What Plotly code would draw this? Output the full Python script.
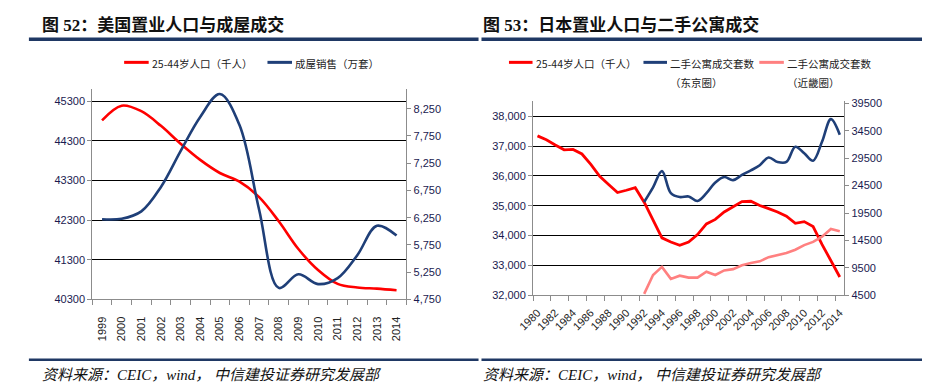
import plotly.graph_objects as go

W, H = 930, 385

# ---------------- data ----------------
us_years = list(range(1999, 2015))
us_pop_25_44 = [44820, 45190, 45050, 44680, 44230, 43820, 43490, 43270,
                42880, 42270, 41570, 41040, 40690, 40600, 40570, 40530]
us_home_sales = [6220, 6230, 6365, 6814, 7472, 8100, 8519, 7950,
                 6395, 4960, 5210, 5030, 5140, 5560, 6100, 5920]

jp_years = list(range(1980, 2015))
jp_pop_25_44 = [37342, 37212, 37038, 36875, 36886, 36734, 36387, 35985, 35713, 35442,
                35518, 35605, 35116, 34519, 33922, 33780, 33672, 33780, 34030, 34389,
                34541, 34790, 34975, 35138, 35149, 35008, 34900, 34790, 34650, 34410,
                34465, 34300, 33705, 33160, 32610]
jp_sales_years = list(range(1992, 2015))
tokyo_sales = [21520, 24190, 27160, 23120, 22410, 22530, 21700, 23120, 25080, 26090,
               25500, 26450, 27280, 28230, 29650, 28820, 28820, 31610, 30420, 29060,
               32500, 36650, 33800]
kinki_sales = [4740, 8180, 9660, 7470, 8060, 7700, 7700, 8770, 8180, 9010,
               9250, 9960, 10370, 10670, 11440, 11860, 12210, 12800, 13640, 14230,
               15180, 16600, 16190]

us_left_ticks = [40300, 41300, 42300, 43300, 44300, 45300]
us_right_ticks = [4750, 5250, 5750, 6250, 6750, 7250, 7750, 8250]
jp_left_ticks = [32000, 33000, 34000, 35000, 36000, 37000, 38000]
jp_right_ticks = [4500, 9500, 14500, 19500, 24500, 29500, 34500, 39500]
jp_label_years = list(range(1980, 2015, 2))

title_left = "图 52：美国置业人口与成屋成交"
title_right = "图 53：日本置业人口与二手公寓成交"
source_text = "资料来源：CEIC，wind， 中信建投证券研究发展部"
leg_pop = "25-44岁人口（千人）"
leg_us_sales = "成屋销售（万套）"
leg_tokyo = ["二手公寓成交套数", "（东京圈）"]
leg_kinki = ["二手公寓成交套数", "（近畿圈）"]

RED = "#FF0000"
BLUE = "#1F3F78"
PINK = "#FF8080"
NAVY_RULE = "#1F3864"
AXIS_GRAY = "#8C8C8C"
TICK_COLOR = "#1A1A50"


def px(x):
    return x / W


def py(y):
    return 1 - y / H


fig = go.Figure()

fig.add_trace(go.Scatter(x=us_years, y=us_pop_25_44, xaxis="x", yaxis="y", mode="lines",
                         line=dict(color=RED, width=2.6, shape="spline"), showlegend=False))
fig.add_trace(go.Scatter(x=us_years, y=us_home_sales, xaxis="x", yaxis="y2", mode="lines",
                         line=dict(color=BLUE, width=2.6, shape="spline"), showlegend=False))
fig.add_trace(go.Scatter(x=jp_years, y=jp_pop_25_44, xaxis="x2", yaxis="y3", mode="lines",
                         line=dict(color=RED, width=2.8), showlegend=False))
fig.add_trace(go.Scatter(x=jp_sales_years, y=tokyo_sales, xaxis="x2", yaxis="y4", mode="lines",
                         line=dict(color=BLUE, width=2.6, shape="spline"), showlegend=False))
fig.add_trace(go.Scatter(x=jp_sales_years, y=kinki_sales, xaxis="x2", yaxis="y4", mode="lines",
                         line=dict(color=PINK, width=2.6), showlegend=False))

tickfont = dict(family="Liberation Sans, Arial, sans-serif", size=11, color=TICK_COLOR)
xtickfont = dict(family="Liberation Sans, Arial, sans-serif", size=11, color="#222222")

common_y = dict(showline=True, linecolor=AXIS_GRAY, linewidth=1, ticks="outside",
                ticklen=4, tickcolor=AXIS_GRAY, tickfont=tickfont, zeroline=False,
                fixedrange=True)

fig.update_layout(
    width=W, height=H,
    margin=dict(l=0, r=0, t=0, b=0),
    paper_bgcolor="white", plot_bgcolor="white",
    xaxis=dict(domain=[px(69.5), px(389.5)], anchor="y", range=[1998.5, 2014.5],
               tickvals=us_years, ticktext=[str(y) for y in us_years], tickangle=-90,
               ticks="outside", ticklen=12, tickcolor="rgba(0,0,0,0)",
               minor=dict(tickvals=[y - 0.5 for y in us_years] + [2014.5], ticks="outside",
                          ticklen=5, tickcolor=AXIS_GRAY, showgrid=False),
               showline=True, linecolor=AXIS_GRAY, showgrid=False, zeroline=False,
               tickfont=xtickfont),
    yaxis=dict(domain=[py(295), py(79)], anchor="x", range=[40300, 45612],
               tickvals=us_left_ticks, tickformat="d", showgrid=True, gridcolor="#000000",
               gridwidth=1, **common_y),
    yaxis2=dict(overlaying="y", side="right", anchor="x", range=[4750, 8613],
                tickvals=us_right_ticks, tickformat=",d", showgrid=False, **common_y),
    xaxis2=dict(domain=[px(518.5), px(835.5)], anchor="y3", range=[1979.5, 2014.5],
                tickvals=jp_label_years, ticktext=[str(y) for y in jp_label_years],
                tickangle=-45, ticks="outside", ticklen=6, tickcolor="rgba(0,0,0,0)",
                minor=dict(tickvals=[y - 0.5 for y in jp_label_years], ticks="outside",
                           ticklen=5, tickcolor=AXIS_GRAY, showgrid=False),
                showline=True, linecolor=AXIS_GRAY, showgrid=False, zeroline=False,
                tickfont=xtickfont),
    yaxis3=dict(domain=[py(290.7), py(91.7)], anchor="x2", range=[32000, 38500],
                tickvals=jp_left_ticks, tickformat=",d", showgrid=True, gridcolor="#000000",
                gridwidth=1, **common_y),
    yaxis4=dict(overlaying="y3", side="right", anchor="x2", range=[4500, 39900],
                tickvals=jp_right_ticks, tickformat="d", showgrid=False, **common_y),
)

shapes = []
annotations = []

# header / footer rules
for x0, x1 in [(5, 463), (466, 926)]:
    shapes.append(dict(type="line", xref="paper", yref="paper", x0=px(x0), x1=px(x1),
                       y0=py(28), y1=py(28), line=dict(color=NAVY_RULE, width=3.5)))
    shapes.append(dict(type="line", xref="paper", yref="paper", x0=px(x0), x1=px(x1),
                       y0=py(357), y1=py(357), line=dict(color=NAVY_RULE, width=2.5)))

title_font = dict(family="Liberation Serif, Noto Sans CJK SC, sans-serif", size=17, color="#111111")
for x, t in [(16, title_left), (465, title_right)]:
    annotations.append(dict(xref="paper", yref="paper", x=px(x), y=py(13), xanchor="left",
                            yanchor="middle", text="<b>" + t + "</b>", showarrow=False,
                            font=title_font))

src_font = dict(family="Liberation Serif, Noto Sans CJK SC, serif", size=15, color="#111111")
for x in [16, 465]:
    annotations.append(dict(xref="paper", yref="paper", x=px(x), y=py(373), xanchor="left",
                            yanchor="middle", text="<i>" + source_text + "</i>", showarrow=False,
                            font=src_font))

leg_font = dict(family="Noto Sans CJK SC, sans-serif", size=10.5, color="#222222")


def legend_item(x0, x1, y, color, lines):
    shapes.append(dict(type="line", xref="paper", yref="paper", x0=px(x0), x1=px(x1),
                       y0=py(y), y1=py(y), line=dict(color=color, width=3)))
    for i, txt in enumerate(lines):
        annotations.append(dict(xref="paper", yref="paper", x=px(x1 + 1), y=py(y + 1.5 + 19 * i),
                                xanchor="left", yanchor="middle", text=txt, showarrow=False,
                                font=leg_font))


legend_item(102, 127, 51.7, RED, [leg_pop])
legend_item(248, 273, 51.7, BLUE, [leg_us_sales])
legend_item(494, 518, 51.7, RED, [leg_pop])
legend_item(631, 655, 51.7, BLUE, leg_tokyo)
legend_item(749, 774, 51.7, PINK, leg_kinki)

fig.update_layout(shapes=shapes, annotations=annotations)

fig.write_html("out.html")
